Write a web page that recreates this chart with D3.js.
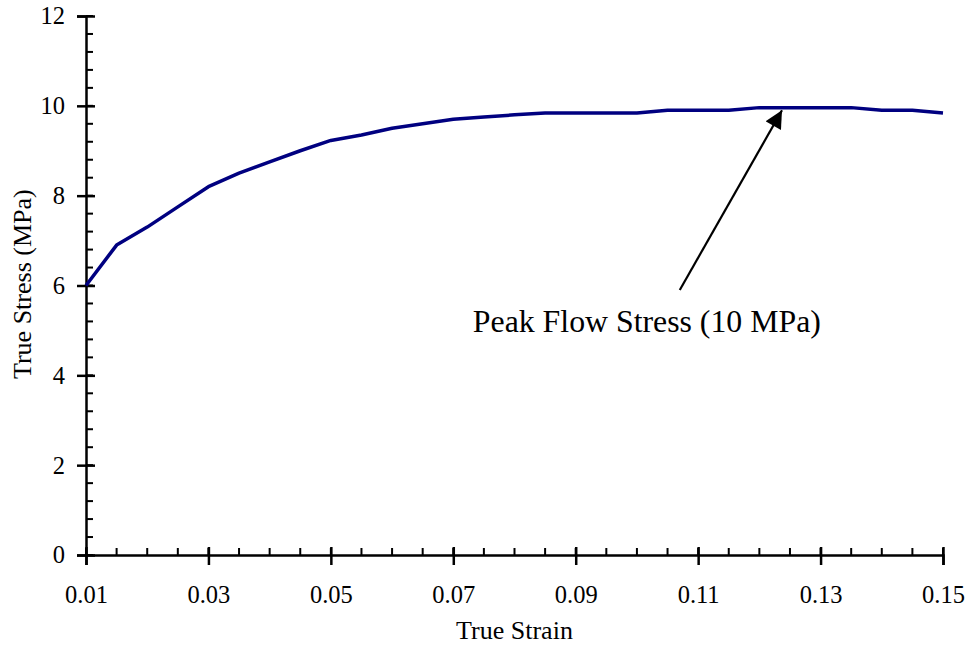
<!DOCTYPE html>
<html>
<head>
    <meta charset="utf-8">
    <title>True Stress vs True Strain</title>
    <script src="https://cdn.jsdelivr.net/npm/d3@7"></script>
    <style>
        body { margin: 0; background: #fff; }
        text { font-family: "Liberation Serif", "Times New Roman", serif; fill: #000; }
    </style>
</head>
<body>
<script>
    // data (strain step 0.005)
    var strain = [0.010, 0.015, 0.020, 0.025, 0.030, 0.035, 0.040, 0.045, 0.050, 0.055,
                  0.060, 0.065, 0.070, 0.075, 0.080, 0.085, 0.090, 0.095, 0.100, 0.105,
                  0.110, 0.115, 0.120, 0.125, 0.130, 0.135, 0.140, 0.145, 0.150];
    var stress = [6.0, 6.9, 7.3, 7.75, 8.2, 8.5, 8.75, 9.0, 9.23, 9.35,
                  9.5, 9.6, 9.7, 9.75, 9.8, 9.84, 9.84, 9.84, 9.84, 9.9,
                  9.9, 9.9, 9.96, 9.96, 9.96, 9.96, 9.9, 9.9, 9.84];
    var xTicks = [0.01, 0.03, 0.05, 0.07, 0.09, 0.11, 0.13, 0.15];
    var yTicks = [0, 2, 4, 6, 8, 10, 12];
    var noteText = "Peak Flow Stress (10 MPa)";
    var noteTip = [0.1237, 9.9];
    var noteTail = [0.107, 5.9];
    var noteAt = [0.0732, 4.96];

    var width = 970;
    var height = 647;
    var margin = {top: 16, right: 27, bottom: 92, left: 86};

    var svg = d3.select("body")
        .append("svg")
        .attr("width", width)
        .attr("height", height);

    var x = d3.scaleLinear()
        .domain([0.01, 0.15])
        .range([margin.left, width - margin.right]);
    var y = d3.scaleLinear()
        .domain([0, 12])
        .range([height - margin.bottom, margin.top]);

    // minor ticks (inside only)
    var xMinor = d3.range(0, 29).map(function(i){ return 0.01 + i * 0.005; });
    var yMinor = d3.range(0, 31).map(function(i){ return i * 0.4; });

    svg.append("g")
        .attr("transform", "translate(0," + y(0) + ")")
        .selectAll("line")
        .data(xMinor)
        .enter().append("line")
        .attr("x1", function(d){ return x(d); })
        .attr("x2", function(d){ return x(d); })
        .attr("y1", 0).attr("y2", -7)
        .attr("stroke", "#000").attr("stroke-width", 2);

    svg.append("g")
        .attr("transform", "translate(" + x(0.01) + ",0)")
        .selectAll("line")
        .data(yMinor)
        .enter().append("line")
        .attr("y1", function(d){ return y(d); })
        .attr("y2", function(d){ return y(d); })
        .attr("x1", 0).attr("x2", 7)
        .attr("stroke", "#000").attr("stroke-width", 2);

    // x axis
    var xAxis = d3.axisBottom(x)
        .tickValues(xTicks)
        .tickFormat(d3.format(".2f"))
        .tickSize(10)
        .tickPadding(21);
    var gx = svg.append("g")
        .attr("transform", "translate(0," + y(0) + ")")
        .call(xAxis);
    gx.select(".domain").attr("stroke", "#000").attr("stroke-width", 2.5);
    gx.selectAll(".tick line")
        .attr("y1", -8).attr("y2", 10)
        .attr("stroke", "#000").attr("stroke-width", 2.5);
    gx.selectAll(".tick text")
        .style("font-family", "Liberation Serif")
        .attr("font-size", 24.5);

    // y axis
    var yAxis = d3.axisLeft(y)
        .tickValues(yTicks)
        .tickSize(9)
        .tickPadding(12);
    var gy = svg.append("g")
        .attr("transform", "translate(" + x(0.01) + ",0)")
        .call(yAxis);
    gy.select(".domain").attr("stroke", "#000").attr("stroke-width", 2.5);
    gy.selectAll(".tick line")
        .attr("x1", -9).attr("x2", 9)
        .attr("stroke", "#000").attr("stroke-width", 2.5);
    gy.selectAll(".tick text")
        .style("font-family", "Liberation Serif")
        .attr("font-size", 24.5);

    // axis titles
    svg.append("text")
        .attr("x", (x(0.01) + x(0.15)) / 2)
        .attr("y", 639)
        .attr("text-anchor", "middle")
        .attr("font-size", 26)
        .text("True Strain");

    svg.append("text")
        .attr("transform", "translate(31," + y(6.03) + ") rotate(-90)")
        .attr("text-anchor", "middle")
        .attr("font-size", 26)
        .text("True Stress (MPa)");

    // curve
    var line = d3.line()
        .x(function(d, i){ return x(strain[i]); })
        .y(function(d){ return y(d); });

    svg.append("path")
        .datum(stress)
        .attr("fill", "none")
        .attr("stroke", "#000080")
        .attr("stroke-width", 3.5)
        .attr("stroke-linejoin", "round")
        .attr("d", line);

    // annotation arrow
    svg.append("defs").append("marker")
        .attr("id", "head")
        .attr("viewBox", "0 0 10 10")
        .attr("refX", 10).attr("refY", 5)
        .attr("markerWidth", 9).attr("markerHeight", 8)
        .attr("markerUnits", "strokeWidth")
        .attr("orient", "auto")
        .append("path")
        .attr("d", "M0,0 L10,5 L0,10 Z")
        .attr("fill", "#000");

    svg.append("line")
        .attr("x1", x(noteTail[0])).attr("y1", y(noteTail[1]))
        .attr("x2", x(noteTip[0])).attr("y2", y(noteTip[1]))
        .attr("stroke", "#000")
        .attr("stroke-width", 2.2)
        .attr("marker-end", "url(#head)");

    svg.append("text")
        .attr("x", x(noteAt[0]))
        .attr("y", y(noteAt[1]))
        .attr("font-size", 31.8)
        .text(noteText);
</script>
</body>
</html>
